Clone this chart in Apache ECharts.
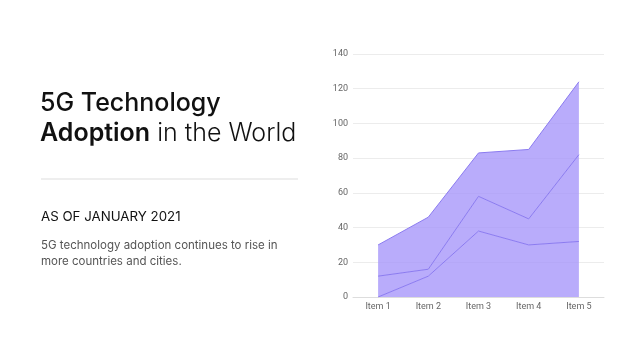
<!DOCTYPE html>
<html><head><meta charset="utf-8">
<script src="https://cdn.jsdelivr.net/npm/echarts@6/dist/echarts.min.js"></script>
<style>html,body{margin:0;padding:0;background:#fff}#c{width:640px;height:360px}</style>
</head><body><div id="c"></div>
<script>
const categories = ['Item 1','Item 2','Item 3','Item 4','Item 5'];
const series1 = [0, 12, 38, 30, 32];
const series2 = [12, 4, 20, 15, 50];
const series3 = [18, 30, 25, 40, 42];
const yTicks = [0, 20, 40, 60, 80, 100, 120, 140];

const chart = echarts.init(document.getElementById('c'));
const F = 'Inter, "Noto Sans", sans-serif';
function area(name, data){
  return {name, type:'line', stack:'total', data, symbol:'none',
    lineStyle:{color:'#8b7bf0', width:1},
    areaStyle:{color:'#a797fa', opacity:0.8}};
}
chart.setOption({
  backgroundColor:'#fff',
  animation:false,
  grid:{left:353, right:36, top:54, bottom:63},
  xAxis:{type:'category', data:categories, boundaryGap:true,
    axisLine:{lineStyle:{color:'#ddd'}}, axisTick:{show:false},
    axisLabel:{color:'#666', fontSize:9, fontFamily:'Roboto, sans-serif', margin:5}},
  yAxis:{type:'value', min:yTicks[0], max:yTicks[yTicks.length-1], interval:20,
    axisLine:{show:false}, axisTick:{show:false},
    splitLine:{lineStyle:{color:'#ececec'}},
    axisLabel:{color:'#666', fontSize:9, fontFamily:'Roboto, sans-serif', margin:5}},
  series:[area('A',series1), area('B',series2), area('C',series3)],
  graphic:[
    {type:'text', left:40, top:91, style:{text:'5G Technology', font:'500 25px '+F, fill:'#111'}},
    {type:'text', left:40, top:121, style:{text:'{b|Adoption}{l| in the World}', rich:{
      b:{font:'600 25px '+F, fill:'#111'}, l:{font:'300 25px '+F, fill:'#111'}}}},
    {type:'line', shape:{x1:41,y1:179,x2:298,y2:179}, style:{stroke:'#ddd', lineWidth:1}},
    {type:'text', left:41, top:210, style:{text:'AS OF JANUARY 2021', font:'400 13.3px '+F, fill:'#111'}},
    {type:'text', left:41, top:238, style:{text:'5G technology adoption continues to rise in\nmore countries and cities.', font:'400 11.5px '+F, fill:'#555', lineHeight:16}}
  ]
});
</script></body></html>
